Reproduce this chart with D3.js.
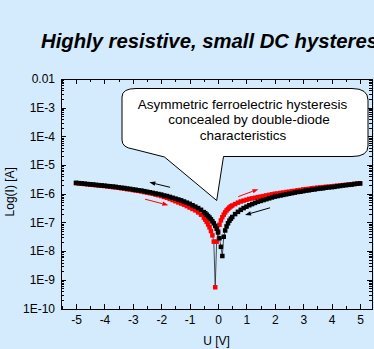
<!DOCTYPE html>
<html>
<head>
<meta charset="utf-8">
<script src="https://cdn.jsdelivr.net/npm/d3@7"></script>
<style>
  body { margin: 0; background: #d3ebfc; }
  svg { display: block; font-family: Arial, "Liberation Sans", sans-serif; }
</style>
</head>
<body>
<script>

// voltage grid (V), finer around 0
var voltage = [
  -5.0, -4.9, -4.8, -4.7, -4.6, -4.5, -4.4, -4.3, -4.2, -4.1,
  -4.0, -3.9, -3.8, -3.7, -3.6, -3.5, -3.4, -3.3, -3.2, -3.1,
  -3.0, -2.9, -2.8, -2.7, -2.6, -2.5, -2.4, -2.3, -2.2, -2.1,
  -2.0, -1.9, -1.8, -1.7, -1.6, -1.5, -1.4, -1.3, -1.2, -1.1,
  -1.0, -0.9, -0.8, -0.7, -0.6, -0.5,
  -0.45, -0.4, -0.35, -0.3, -0.25, -0.2, -0.15, -0.1, -0.05, 0.0,
  0.05, 0.1, 0.15, 0.2, 0.25, 0.3, 0.35, 0.4, 0.45,
  0.5, 0.6, 0.7, 0.8, 0.9, 1.0, 1.1, 1.2, 1.3, 1.4,
  1.5, 1.6, 1.7, 1.8, 1.9, 2.0, 2.1, 2.2, 2.3, 2.4,
  2.5, 2.6, 2.7, 2.8, 2.9, 3.0, 3.1, 3.2, 3.3, 3.4,
  3.5, 3.6, 3.7, 3.8, 3.9, 4.0, 4.1, 4.2, 4.3, 4.4,
  4.5, 4.6, 4.7, 4.8, 4.9, 5.0
];

// log10 of current (A), black sweep
var blackLogI = [
  -5.62, -5.63, -5.64, -5.65, -5.66, -5.67, -5.68, -5.69, -5.70, -5.71,
  -5.72, -5.73, -5.74, -5.75, -5.76, -5.78, -5.79, -5.80, -5.82, -5.83,
  -5.85, -5.86, -5.88, -5.89, -5.91, -5.93, -5.95, -5.97, -5.99, -6.01,
  -6.03, -6.06, -6.08, -6.11, -6.14, -6.17, -6.20, -6.23, -6.27, -6.31,
  -6.35, -6.40, -6.45, -6.50, -6.56, -6.64,
  -6.68, -6.73, -6.78, -6.83, -6.89, -6.96, -7.03, -7.12, -7.22, -7.35,
  -7.55, -7.85, -8.17, -7.50, -7.28, -7.14, -7.03, -6.94, -6.87,
  -6.81, -6.71, -6.63, -6.56, -6.50, -6.45, -6.40, -6.36, -6.32, -6.28,
  -6.25, -6.22, -6.19, -6.16, -6.13, -6.10, -6.08, -6.06, -6.04, -6.02,
  -6.00, -5.98, -5.96, -5.94, -5.93, -5.91, -5.89, -5.88, -5.86, -5.85,
  -5.83, -5.82, -5.81, -5.79, -5.78, -5.77, -5.76, -5.74, -5.73, -5.71,
  -5.70, -5.69, -5.68, -5.66, -5.65, -5.64
];

// log10 of current (A), red sweep
var redLogI = [
  -5.63, -5.64, -5.65, -5.66, -5.67, -5.68, -5.69, -5.70, -5.71, -5.72,
  -5.73, -5.74, -5.75, -5.77, -5.78, -5.79, -5.81, -5.82, -5.84, -5.85,
  -5.87, -5.89, -5.90, -5.92, -5.94, -5.96, -5.98, -6.00, -6.03, -6.05,
  -6.08, -6.11, -6.14, -6.18, -6.22, -6.26, -6.30, -6.34, -6.38, -6.43,
  -6.48, -6.53, -6.58, -6.65, -6.73, -6.83,
  -6.90, -6.98, -7.07, -7.17, -7.30, -7.45, -7.67, -9.26, -7.67, -7.30,
  -7.08, -6.93, -6.82, -6.73, -6.65, -6.58, -6.53, -6.48, -6.44,
  -6.41, -6.36, -6.31, -6.27, -6.24, -6.21, -6.18, -6.16, -6.14, -6.12,
  -6.10, -6.08, -6.06, -6.04, -6.02, -6.00, -5.99, -5.97, -5.96, -5.94,
  -5.93, -5.91, -5.90, -5.88, -5.87, -5.85, -5.84, -5.83, -5.81, -5.80,
  -5.79, -5.78, -5.77, -5.76, -5.75, -5.74, -5.73, -5.72, -5.71, -5.70,
  -5.69, -5.68, -5.67, -5.66, -5.65, -5.64
];

var xTicks = [-5, -4, -3, -2, -1, 0, 1, 2, 3, 4, 5];
var xTickLabels = ["-5", "-4", "-3", "-2", "-1", "0", "1", "2", "3", "4", "5"];
var yTicks = [1e-2, 1e-3, 1e-4, 1e-5, 1e-6, 1e-7, 1e-8, 1e-9, 1e-10];
var yTickLabels = ["0.01", "1E-3", "1E-4", "1E-5", "1E-6", "1E-7", "1E-8", "1E-9", "1E-10"];

var calloutLines = ["Asymmetric ferroelectric hysteresis", "concealed by double-diode", "characteristics"];

// sweep arrows: [U from, log I from, U to, log I to, colour]
var sweepArrows = [
  [-1.69, -5.775, -2.42, -5.60, "#000"],
  [-2.57, -6.19, -1.75, -6.40, "#f00"],
  [0.71, -6.10, 1.42, -5.84, "#f00"],
  [1.83, -6.49, 0.95, -6.74, "#000"]
];

var width = 374, height = 349;
var plotLeft = 61, plotRight = 372, plotTop = 79, plotBottom = 308.5;

var x = d3.scaleLinear().domain([-5.53, 5.42]).range([plotLeft, plotRight]);
var y = d3.scaleLog().domain([1e-10, 1e-2]).range([plotBottom, plotTop]);

var svg = d3.select("body").append("svg")
  .attr("width", width)
  .attr("height", height);

// title (runs off the right edge like the original)
svg.append("text")
  .attr("x", 41).attr("y", 48)
  .style("font-size", "20.3px")
  .style("font-weight", "bold")
  .style("font-style", "italic")
  .text("Highly resistive, small DC hysteresis");

// minor tick values
var xMinor = d3.range(-5.5, 5.5, 1);
var yMinor = [];
for (var e = -10; e < -2; e++) {
  for (var m = 2; m <= 9; m++) yMinor.push(m * Math.pow(10, e));
}

function styleAxis(g) {
  g.selectAll("path, line").attr("stroke", "#000").attr("stroke-width", 1)
    .attr("shape-rendering", "crispEdges");
  g.selectAll("text").attr("fill", "#000").style("font-size", "12px")
    .style("font-family", "Arial, 'Liberation Sans', sans-serif");
}

// bottom
svg.append("g").attr("transform", "translate(0," + plotBottom + ")")
  .call(d3.axisBottom(x).tickValues(xTicks).tickSizeInner(-5).tickSizeOuter(0).tickPadding(7)
    .tickFormat(function(d, i) { return xTickLabels[i]; }))
  .call(styleAxis);
svg.append("g").attr("transform", "translate(0," + plotBottom + ")")
  .call(d3.axisBottom(x).tickValues(xMinor).tickSizeInner(-3).tickSizeOuter(0).tickFormat(""))
  .call(styleAxis);

// top
svg.append("g").attr("transform", "translate(0," + plotTop + ")")
  .call(d3.axisTop(x).tickValues(xTicks).tickSizeInner(-5).tickSizeOuter(0).tickFormat(""))
  .call(styleAxis);
svg.append("g").attr("transform", "translate(0," + plotTop + ")")
  .call(d3.axisTop(x).tickValues(xMinor).tickSizeInner(-3).tickSizeOuter(0).tickFormat(""))
  .call(styleAxis);

// left
svg.append("g").attr("transform", "translate(" + plotLeft + ",0)")
  .call(d3.axisLeft(y).tickValues(yTicks).tickSizeInner(-5).tickSizeOuter(0).tickPadding(6)
    .tickFormat(function(d, i) { return yTickLabels[i]; }))
  .call(styleAxis);
svg.append("g").attr("transform", "translate(" + plotLeft + ",0)")
  .call(d3.axisLeft(y).tickValues(yMinor).tickSizeInner(-3).tickSizeOuter(0).tickFormat(""))
  .call(styleAxis);

// right
svg.append("g").attr("transform", "translate(" + plotRight + ",0)")
  .call(d3.axisRight(y).tickValues(yTicks).tickSizeInner(-5).tickSizeOuter(0).tickFormat(""))
  .call(styleAxis);
svg.append("g").attr("transform", "translate(" + plotRight + ",0)")
  .call(d3.axisRight(y).tickValues(yMinor).tickSizeInner(-3).tickSizeOuter(0).tickFormat(""))
  .call(styleAxis);

// axis titles
svg.append("text")
  .attr("x", (plotLeft + plotRight) / 2).attr("y", 345)
  .attr("text-anchor", "middle")
  .style("font-size", "12px")
  .text("U [V]");
svg.append("text")
  .attr("transform", "translate(14," + ((plotTop + plotBottom) / 2 - 2) + ") rotate(-90)")
  .attr("text-anchor", "middle")
  .style("font-size", "12px")
  .text("Log(I) [A]");

// data series
function drawSeries(logs, colour) {
  var pts = voltage.map(function(u, i) { return [u, Math.pow(10, logs[i])]; });
  var line = d3.line()
    .x(function(d) { return x(d[0]); })
    .y(function(d) { return y(d[1]); });
  var g = svg.append("g");
  g.append("path")
    .datum(pts)
    .attr("d", line)
    .attr("fill", "none")
    .attr("stroke", "#222")
    .attr("stroke-width", 0.8);
  g.selectAll("rect")
    .data(pts)
    .enter()
      .append("rect")
      .attr("x", function(d) { return x(d[0]) - 2.25; })
      .attr("y", function(d) { return y(d[1]) - 2.25; })
      .attr("width", 4.5)
      .attr("height", 4.5)
      .attr("fill", colour);
}
drawSeries(redLogI, "#ff0000");
drawSeries(blackLogI, "#000000");

// sweep direction arrows
sweepArrows.forEach(function(a) {
  var x1 = x(a[0]), y1 = y(Math.pow(10, a[1])), x2 = x(a[2]), y2 = y(Math.pow(10, a[3]));
  var ang = Math.atan2(y2 - y1, x2 - x1);
  var len = 6, half = 2.2;
  var bx = x2 - len * Math.cos(ang), by = y2 - len * Math.sin(ang);
  svg.append("line")
    .attr("x1", x1).attr("y1", y1).attr("x2", bx).attr("y2", by)
    .attr("stroke", a[4]).attr("stroke-width", 1);
  svg.append("path")
    .attr("d", "M" + x2 + "," + y2 +
      "L" + (bx + half * Math.sin(ang)) + "," + (by - half * Math.cos(ang)) +
      "L" + (bx - half * Math.sin(ang)) + "," + (by + half * Math.cos(ang)) + "Z")
    .attr("fill", a[4]);
});

// callout
svg.append("path")
  .attr("d", "M122,97 Q122,88.5 136,88.5 L352,88.5 Q368,88.5 368,100 L368,146 " +
    "Q368,156.5 352,156.5 L223.5,156.5 L216.7,200.5 L164.5,157 L133,149 Q122,147.5 122,140 Z")
  .attr("fill", "#fff")
  .attr("stroke", "#000")
  .attr("stroke-width", 1);

var calloutX = [242.5, 249, 243];
svg.selectAll(".callout")
  .data(calloutLines)
  .enter()
    .append("text")
    .attr("x", function(d, i) { return calloutX[i]; })
    .attr("y", function(d, i) { return 108.5 + i * 15.5; })
    .attr("text-anchor", "middle")
    .style("font-size", "13.5px")
    .text(function(d) { return d; });

</script>
</body>
</html>
